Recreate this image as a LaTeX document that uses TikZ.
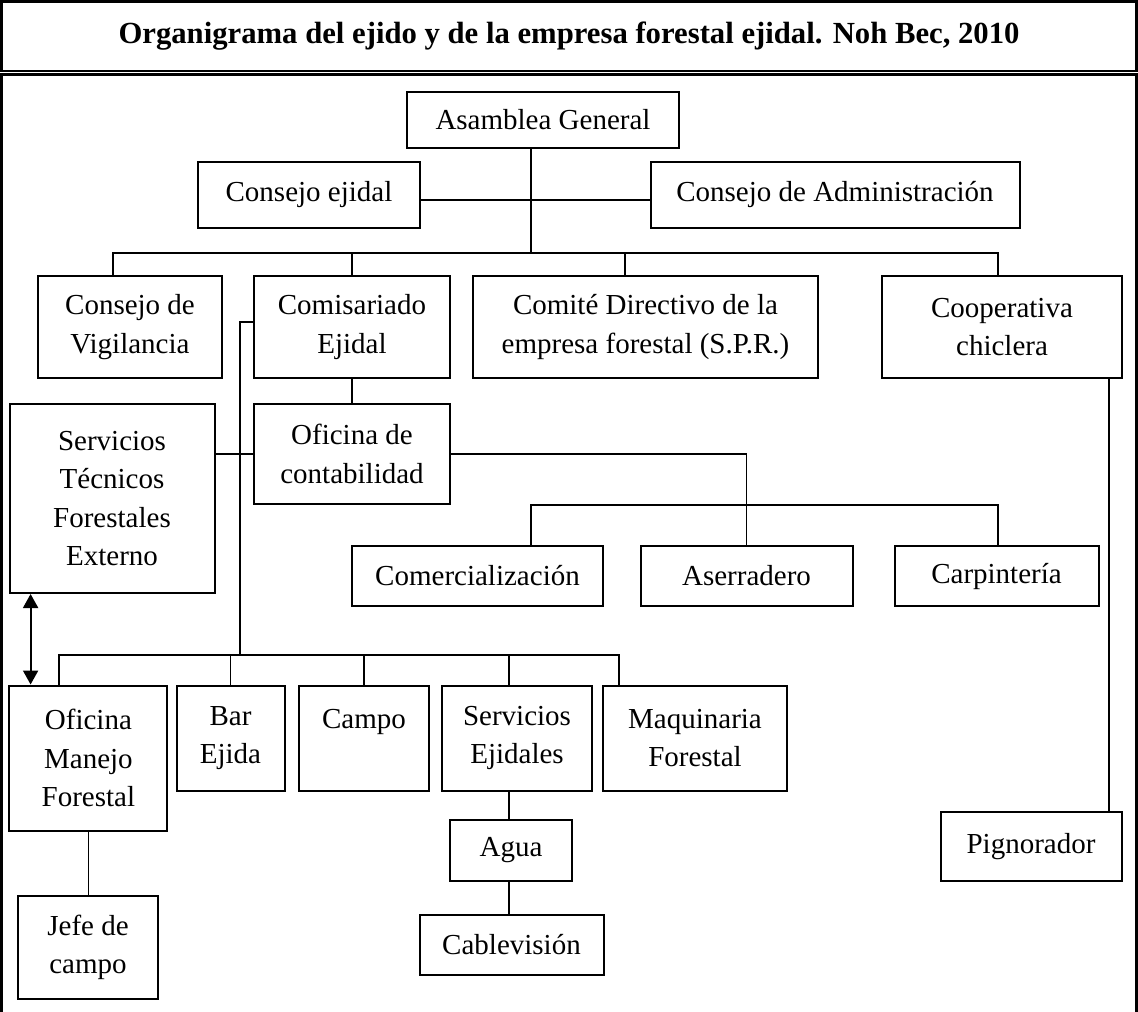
\documentclass[tikz,border=0pt]{standalone}
\usepackage{fontspec}
\setmainfont{Liberation Serif}
\usetikzlibrary{arrows.meta}

\begin{document}
\begin{tikzpicture}[x=1pt,y=-1pt,>={Triangle[width=15pt,length=14pt]},
  font=\fontsize{29}{38.5}\selectfont,line cap=rect,
  unit/.style={draw,line width=2pt,align=center,inner sep=0pt},
  link/.style={line width=1.7pt}]
\useasboundingbox (0,0) rectangle (1138,1012);
\draw[line width=2.5pt] (1.5,1.5) rectangle (1136.5,71);
\draw[line width=2.5pt] (1.5,1020) -- (1.5,74.5) -- (1136.5,74.5) -- (1136.5,1020);
\node[font=\bfseries\fontsize{30.7}{36}\selectfont] (title) at (569,36) {Organigrama del ejido y de la empresa forestal ejidal. Noh Bec, 2010};
\node[unit,minimum width=272,minimum height=56] (asamblea) at (543,120) {Asamblea General};
\node[unit,minimum width=222,minimum height=66] (cejidal) at (309,195) {Consejo ejidal};
\node[unit,minimum width=369,minimum height=66] (cadmin) at (835,195) {Consejo de Administración};
\node[unit,minimum width=184,minimum height=102] (vigilancia) at (130,327) {Consejo de\\Vigilancia};
\node[unit,minimum width=196,minimum height=102] (comisariado) at (352,327) {Comisariado\\Ejidal};
\node[unit,minimum width=345,minimum height=102] (comite) at (645.5,327) {Comité Directivo de la\\empresa forestal (S.P.R.)};
\node[unit,minimum width=240,minimum height=102] (cooperativa) at (1002,327) {Cooperativa\\chiclera};
\node[unit,minimum width=205,minimum height=189] (tecnicos) at (112,498.5) {Servicios\\Técnicos\\Forestales\\Externo};
\node[unit,minimum width=196,minimum height=100] (contab) at (352,454) {Oficina de\\contabilidad};
\node[unit,minimum width=251,minimum height=60] (comercial) at (477.5,576) {Comercialización};
\node[unit,minimum width=212,minimum height=60] (aserradero) at (746.5,576) {Aserradero};
\node[unit,minimum width=204,minimum height=60] (carpinteria) at (996.5,576) {Carpintería};
\node[unit,minimum width=158,minimum height=145] (manejo) at (88.4,758) {Oficina\\Manejo\\Forestal};
\node[unit,minimum width=108,minimum height=105] (bar) at (230.5,738) {Bar\\Ejida};
\node[unit,minimum width=130,minimum height=105] (campo) at (364,738) {Campo\\\mbox{}};
\node[unit,minimum width=150,minimum height=105] (servej) at (517,738) {Servicios\\Ejidales};
\node[unit,minimum width=184,minimum height=105] (maquinaria) at (695,738) {Maquinaria\\Forestal};
\node[unit,minimum width=140,minimum height=103] (jefe) at (88,947.5) {Jefe de\\campo};
\node[unit,minimum width=122,minimum height=61] (agua) at (511,850.5) {Agua};
\node[unit,minimum width=184,minimum height=60] (cable) at (511.5,945) {Cablevisión};
\node[unit,minimum width=181,minimum height=69] (pignorador) at (1031,846.5) {Pignorador};
\coordinate (top) at (531,253);
\coordinate (b1) at (113,253);
\coordinate (b3) at (625,253);
\coordinate (b4) at (998,253);
\coordinate (stub) at (240,322);
\coordinate (m1) at (531,505);
\coordinate (m3) at (998,505);
\coordinate (l1) at (59,655);
\coordinate (l5) at (619,655);
\coordinate (sv) at (509,655);
\coordinate (ar) at (30.6,655);
\coordinate (pg) at (1109,655);
\draw[link] (asamblea.south -| top) -- (top);
\draw[link] ([yshift=-5pt]cejidal.east) -- ([yshift=-5pt]cadmin.west);
\draw[link] (vigilancia.north -| b1) -- (b1) -- (b4) -- (b4 |- cooperativa.north);
\draw[link] (comisariado.north) -- (comisariado.north |- b1);
\draw[link] (b3) -- (b3 |- comite.north);
\draw[link] (comisariado.south) -- (contab.north);
\draw[link] (stub -| comisariado.west) -- (stub) -- (stub |- l1);
\draw[link] (contab.west -| tecnicos.east) -- (contab.west);
\draw[link] (contab.east) -| (aserradero.north);
\draw[link] (comercial.north -| m1) -- (m1) -- (m3) -- (m3 |- carpinteria.north);
\draw[link] (manejo.north -| l1) -- (l1) -- (l5) -- (l5 |- maquinaria.north);
\draw[link] (bar.north) -- (bar.north |- l1);
\draw[link] (campo.north) -- (campo.north |- l1);
\draw[link] (sv) -- (sv |- servej.north);
\draw[link] (servej.south -| sv) -- (agua.north -| sv);
\draw[link] (agua.south -| sv) -- (cable.north -| sv);
\draw[link] (manejo.south) -- (manejo.south |- jefe.north);
\draw[link] (cooperativa.south -| pg) -- (pignorador.north -| pg);
\draw[<->,line width=2pt] (tecnicos.south -| ar) -- (manejo.north -| ar);
\end{tikzpicture}
\end{document}
